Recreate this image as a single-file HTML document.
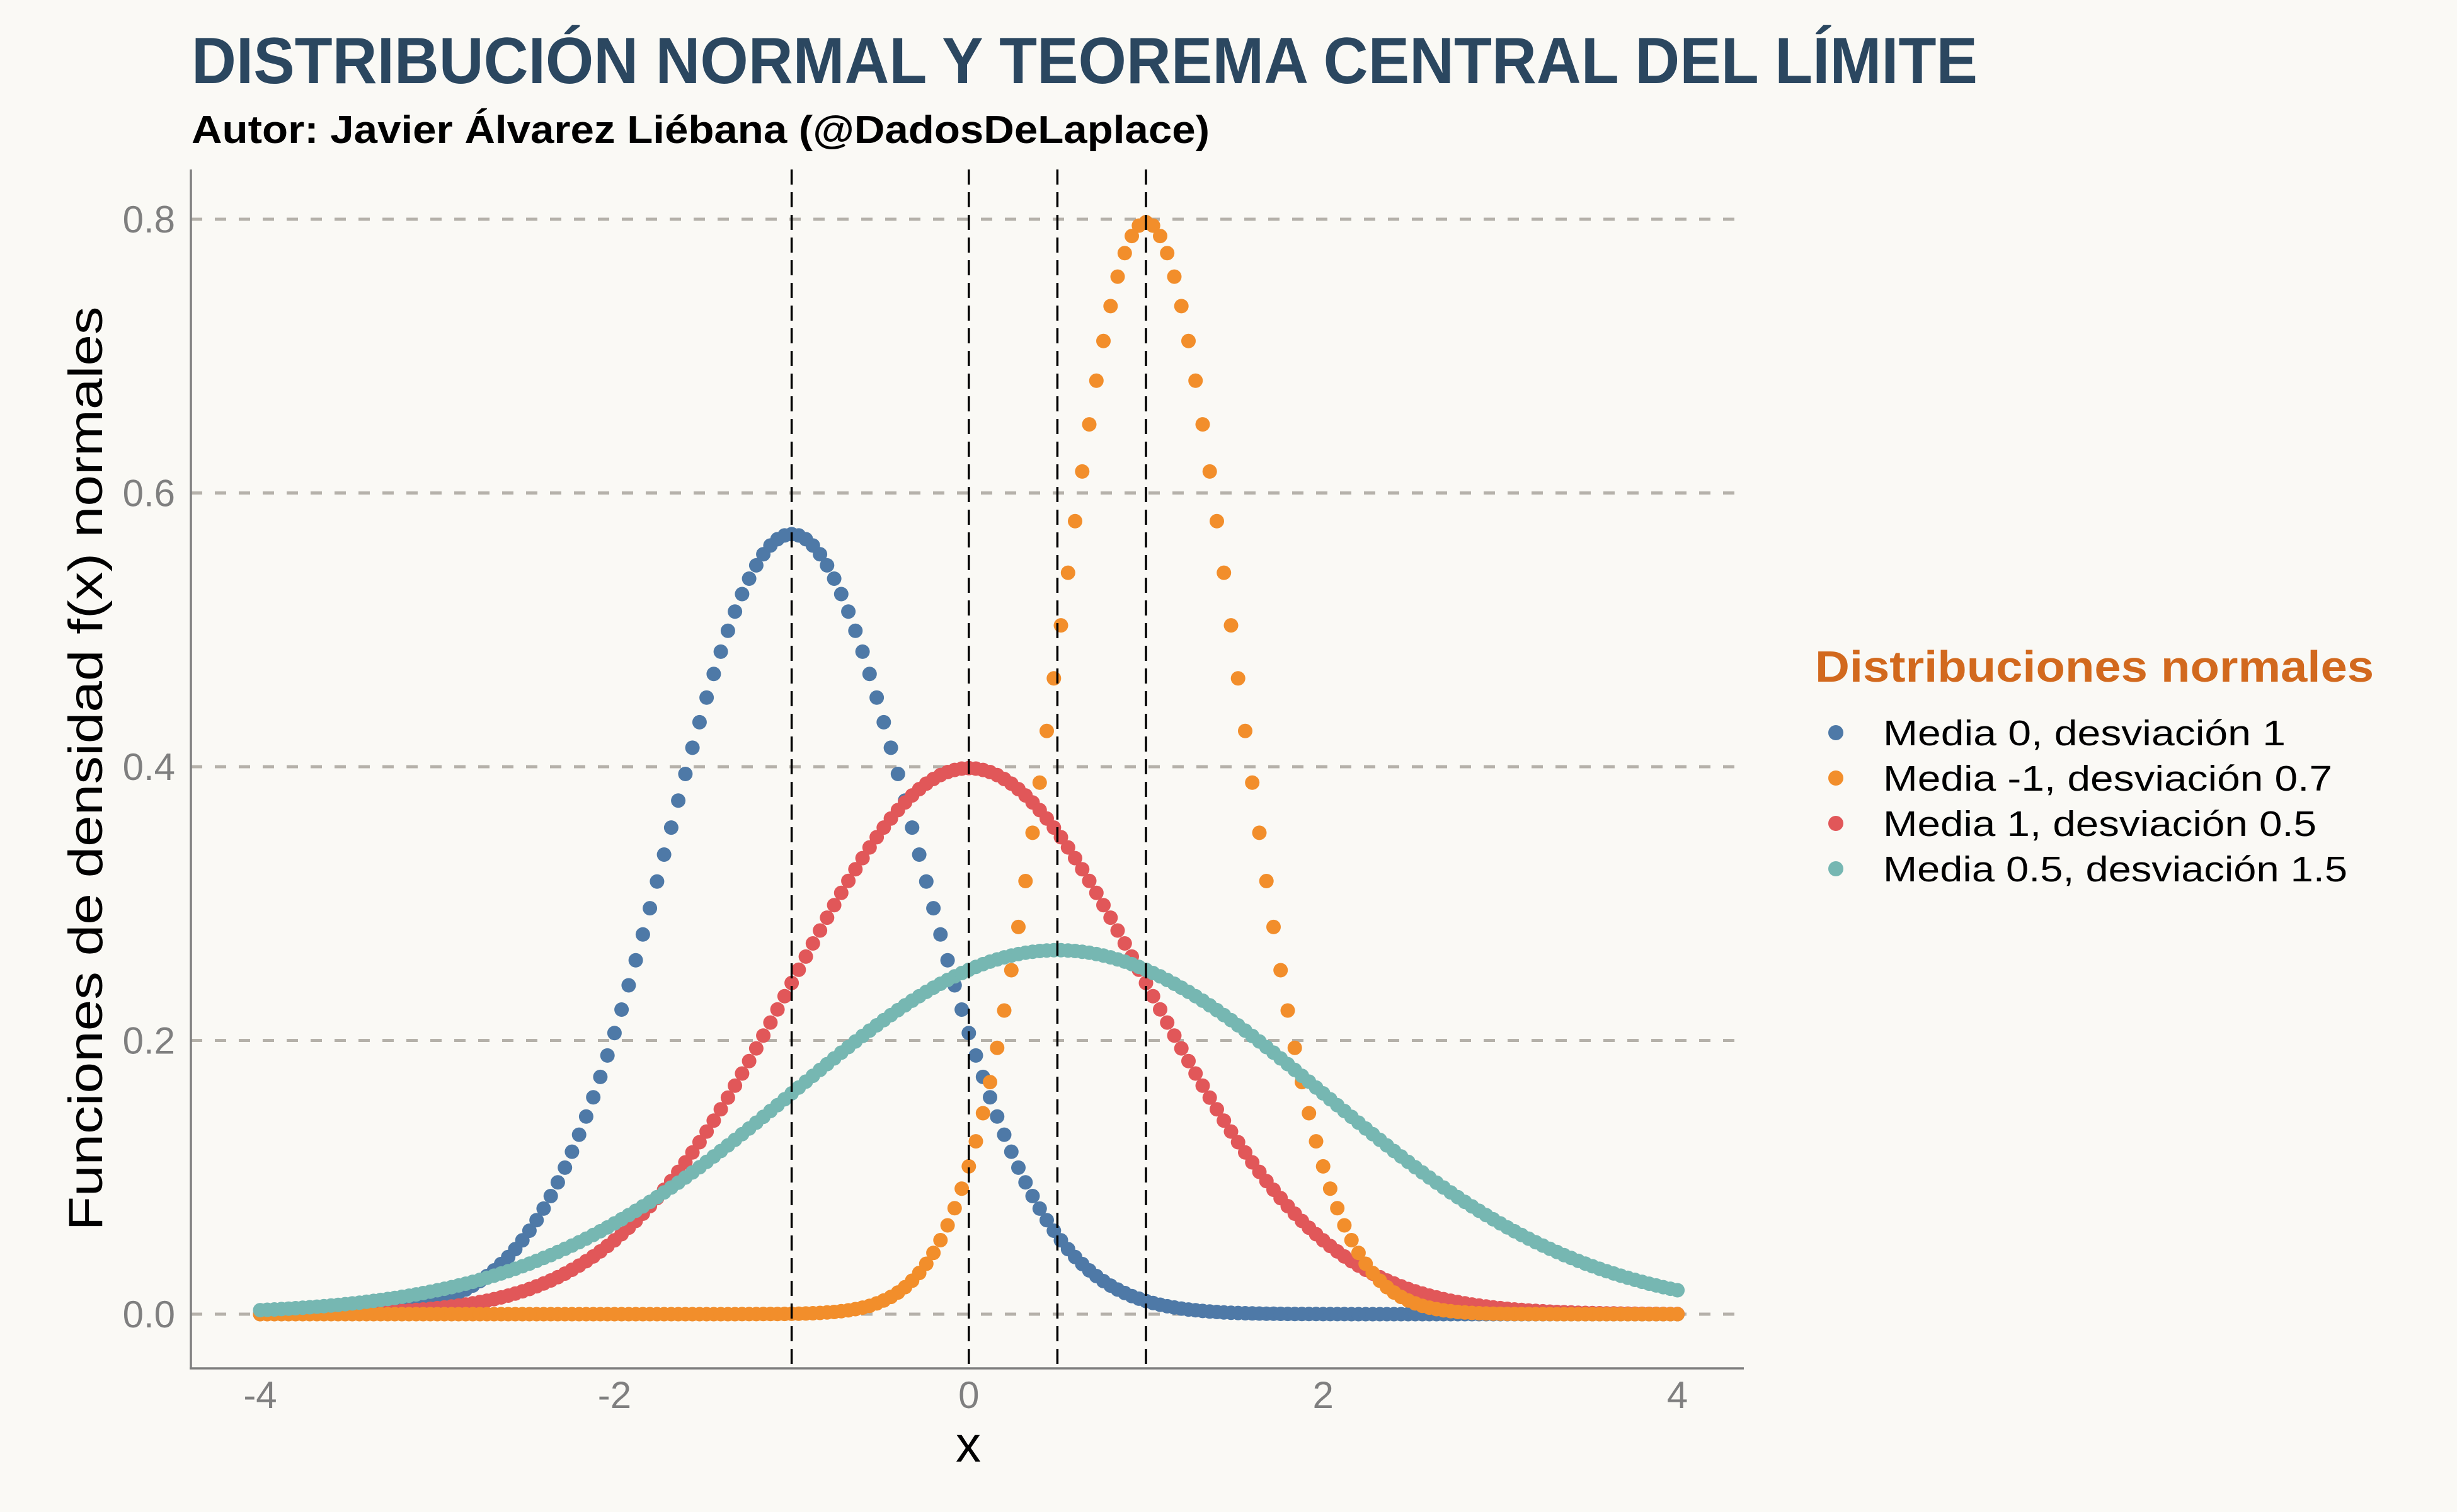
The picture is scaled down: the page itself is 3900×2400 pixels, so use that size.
<!DOCTYPE html>
<html><head><meta charset="utf-8"><style>
html,body{margin:0;padding:0;background:#faf9f5;}
svg{display:block;font-family:"Liberation Sans",sans-serif;}
</style></head><body>
<svg id="chart" width="3900" height="2400" viewBox="0 0 3900 2400" xmlns="http://www.w3.org/2000/svg">
<rect x="0" y="0" width="3900" height="2400" fill="#faf9f5"/>
<text x="304" y="132" font-size="104" font-weight="bold" fill="#2b4760" textLength="2835" lengthAdjust="spacingAndGlyphs">DISTRIBUCIÓN NORMAL Y TEOREMA CENTRAL DEL LÍMITE</text>
<text x="304" y="227" font-size="62" font-weight="bold" fill="#000" textLength="1616" lengthAdjust="spacingAndGlyphs">Autor: Javier Álvarez Liébana (@DadosDeLaplace)</text>
<g id="grid"></g>
<g id="points"></g>
<g id="vlines"></g>
<g id="axes">
<line x1="303" y1="269" x2="303" y2="2173" stroke="#7f7f7f" stroke-width="3.5"/>
<line x1="301" y1="2172" x2="2768" y2="2172" stroke="#7f7f7f" stroke-width="3.5"/>
</g>
<g id="ticks"></g>
<text x="1537" y="2320" font-size="80" text-anchor="middle" fill="#000">x</text>
<text transform="translate(162,1220) rotate(-90)" font-size="76" text-anchor="middle" fill="#000" textLength="1467" lengthAdjust="spacingAndGlyphs">Funciones de densidad f(x) normales</text>
<g>
<text x="2881" y="1082" font-size="70" font-weight="bold" fill="#d2691e" textLength="887" lengthAdjust="spacingAndGlyphs">Distribuciones normales</text>
<g id="legendItems"></g>
</g>
</svg>
<script>
const seriesLabels = ["Media 0, desviación 1","Media -1, desviación 0.7","Media 1, desviación 0.5","Media 0.5, desviación 1.5"];
const seriesColors = ["#4e79a7","#f28e2b","#e15759","#76b7b2"];
const seriesMeans = [-1, 1, 0, 0.5];
const seriesSds = [0.7, 0.5, 1, 1.5];
const meanLines = [-1, 0, 0.5, 1];
const xTicks = [-4, -2, 0, 2, 4];
const xTickLabels = ["-4","-2","0","2","4"];
const yTicks = [0, 0.2, 0.4, 0.6, 0.8];
const yTickLabels = ["0.0","0.2","0.4","0.6","0.8"];
const xMin = -4, xMax = 4, nPoints = 201;

const NS = "http://www.w3.org/2000/svg";
const legendTextWidths = [639, 713, 688, 737];
const drawOrder = [0, 2, 1, 3];
function X(v){ return 413 + (v + 4) * 281.2; }
function Y(v){ return 2086 - v * 2172.5; }
function mk(tag, attrs, parent){
  const e = document.createElementNS(NS, tag);
  for (const k in attrs) e.setAttribute(k, attrs[k]);
  parent.appendChild(e); return e;
}
const grid = document.getElementById('grid');
yTicks.forEach((t,i)=>{
  const l = mk('line',{x1:303,x2:2768,y1:Y(t),y2:Y(t),stroke:'#b5b1aa','stroke-width':5,'stroke-dasharray':'18 20'},grid);
  
  
});
const ticks = document.getElementById('ticks');
yTicks.forEach((t,i)=>{
  const tx = mk('text',{x:278,y:Y(t)+21,'font-size':60,'text-anchor':'end',fill:'#7f7f7f'},ticks);
  tx.textContent = yTickLabels[i];
  
  
});
xTicks.forEach((t,i)=>{
  const tx = mk('text',{x:X(t),y:2235,'font-size':60,'text-anchor':'middle',fill:'#7f7f7f'},ticks);
  tx.textContent = xTickLabels[i];
  
  
});
const pts = document.getElementById('points');
function dens(x,m,s){ return Math.exp(-0.5*((x-m)/s)**2)/(s*Math.sqrt(2*Math.PI)); }
drawOrder.forEach(si=>{
  const m = seriesMeans[si];
  const g = mk('g',{fill:seriesColors[si]},pts);
  
  
  for(let i=0;i<nPoints;i++){
    const x = xMin + (xMax-xMin)*i/(nPoints-1);
    const c = mk('circle',{cx:X(x).toFixed(1),cy:Y(dens(x,m,seriesSds[si])).toFixed(1),r:11.5},g);
    
    
  }
});
const vl = document.getElementById('vlines');
meanLines.forEach(v=>{
  const l = mk('line',{x1:X(v),x2:X(v),y1:269,y2:2170,stroke:'#000','stroke-width':3.5,'stroke-dasharray':'24 12'},vl);
  
  
});
const li = document.getElementById('legendItems');
seriesLabels.forEach((lab,i)=>{
  const y = 1163 + i*72;
  const c = mk('circle',{cx:2914,cy:y,r:12,fill:seriesColors[i]},li);
  
  
  const t = mk('text',{x:2989,y:y+20,'font-size':57,fill:'#000',textLength:legendTextWidths[i],lengthAdjust:'spacingAndGlyphs'},li);
  t.textContent = lab;
  
  
});
</script>
</body></html>
